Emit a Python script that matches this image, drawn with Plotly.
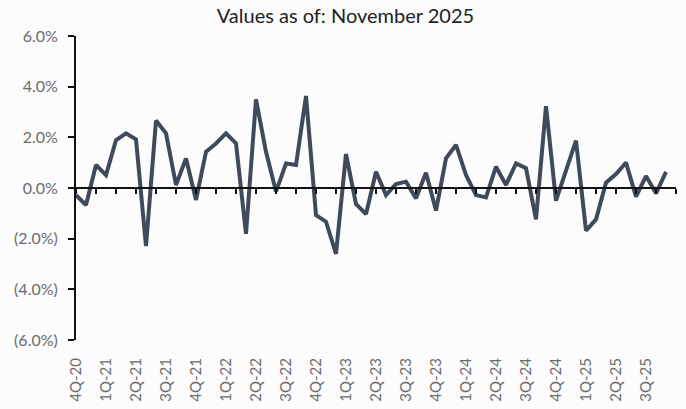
import plotly.graph_objects as go

values = [-0.28, -0.67, 0.91, 0.51, 1.89, 2.16, 1.92, -2.29, 2.66, 2.16,
          0.12, 1.17, -0.47, 1.43, 1.76, 2.16, 1.76, -1.81, 3.50, 1.43,
          -0.14, 0.97, 0.91, 3.63, -1.07, -1.33, -2.60, 1.34, -0.63, -1.03,
          0.64, -0.28, 0.16, 0.25, -0.41, 0.60, -0.89, 1.17, 1.70, 0.51,
          -0.28, -0.37, 0.84, 0.12, 0.97, 0.78, -1.24, 3.23, -0.50, 0.71,
          1.87, -1.68, -1.24, 0.21, 0.55, 1.00, -0.34, 0.47, -0.21, 0.64]

quarter_labels = ["4Q-20", "1Q-21", "2Q-21", "3Q-21", "4Q-21", "1Q-22", "2Q-22",
                  "3Q-22", "4Q-22", "1Q-23", "2Q-23", "3Q-23", "4Q-23", "1Q-24",
                  "2Q-24", "3Q-24", "4Q-24", "1Q-25", "2Q-25", "3Q-25"]

y_ticks = [-6, -4, -2, 0, 2, 4, 6]
y_tick_text = [f"({abs(v):.1f}%)" if v < 0 else f"{v:.1f}%" for v in y_ticks]

x_idx = list(range(len(values)))
label_pos = [3 * i for i in range(len(quarter_labels))]
minor_pos = list(range(0, len(values) + 1, 2))

fig = go.Figure()
fig.add_trace(go.Scatter(x=x_idx, y=values, mode="lines",
                         line=dict(color="#3F4A5A", width=4),
                         showlegend=False, hoverinfo="skip"))
# invisible trace to activate xaxis2 (zero line with tick marks)
fig.add_trace(go.Scatter(x=[0], y=[0], xaxis="x2", mode="markers",
                         marker=dict(opacity=0), showlegend=False, hoverinfo="skip"))

font_family = "Lato, 'Open Sans', sans-serif"
fig.update_layout(
    width=686, height=409,
    margin=dict(l=76, r=10, t=36, b=69, autoexpand=False),
    paper_bgcolor="#FCFCFC", plot_bgcolor="#FCFCFC",
    title=dict(text="Values as of: November 2025", x=0.5036, xanchor="center",
               y=0.96, yanchor="middle",
               font=dict(family=font_family, size=20, color="#222222")),
    xaxis=dict(range=[0, 60], tickmode="array", tickvals=label_pos,
               ticktext=quarter_labels, tickangle=-90, ticks="",
               ticklabelstandoff=14, automargin=False,
               showgrid=False, zeroline=False, showline=False,
               tickfont=dict(family=font_family, size=15, color="#6B6B6B")),
    xaxis2=dict(range=[0, 60], overlaying="x", anchor="free", position=0.5,
                side="bottom", tickmode="array", tickvals=minor_pos,
                ticks="outside", ticklen=5, tickwidth=2, tickcolor="#111111",
                showticklabels=False, showline=True, linecolor="#111111",
                linewidth=2, showgrid=False, zeroline=False),
    yaxis=dict(range=[-6, 6], tickmode="array", tickvals=y_ticks,
               ticktext=y_tick_text, ticks="outside", ticklen=6, tickwidth=2,
               tickcolor="#111111", showline=True, linecolor="#111111",
               linewidth=2, showgrid=False, zeroline=False,
               ticklabelstandoff=7, automargin=False,
               tickfont=dict(family=font_family, size=16, color="#6B6B6B")),
)

fig.write_html("out.html", config={"displayModeBar": False},
               post_script="document.body.style.margin='0';document.body.style.padding='0';")
